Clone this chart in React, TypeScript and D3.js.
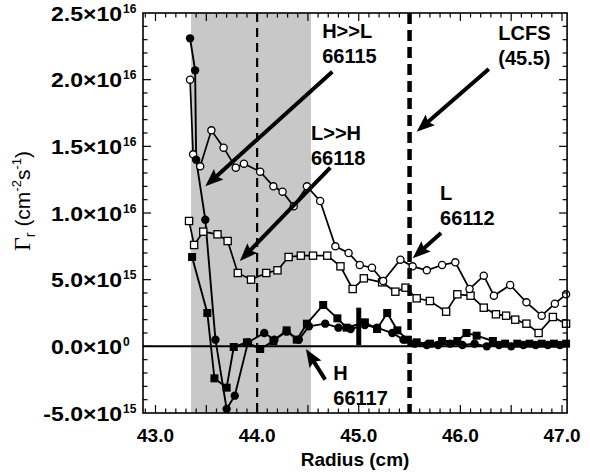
import React from "react";
import * as d3 from "d3";

// ---- data (flux in units of 1e15 cm^-2 s^-1) ----
const L_66112: [number, number][] = [
  [43.34, 20.0], [43.37, 14.4], [43.44, 13.5], [43.55, 16.2], [43.67, 14.9],
  [43.79, 13.4], [43.87, 13.7], [44.03, 13.1], [44.16, 12.0], [44.25, 11.6],
  [44.36, 10.5], [44.49, 12.0], [44.62, 10.9], [44.77, 7.5], [44.9, 7.0],
  [45.01, 6.1], [45.13, 5.9], [45.24, 4.9], [45.41, 6.5], [45.53, 6.0],
  [45.67, 5.7], [45.82, 6.1], [45.95, 6.3], [46.09, 4.3], [46.23, 5.3],
  [46.33, 3.8], [46.49, 4.6], [46.65, 3.3], [46.8, 2.3], [46.93, 3.2], [47.04, 3.9],
];
const LH_66118: [number, number][] = [
  [43.33, 9.4], [43.38, 7.6], [43.47, 8.6], [43.61, 8.4], [43.71, 7.9],
  [43.81, 5.5], [43.94, 5.0], [44.09, 5.5], [44.2, 5.7], [44.31, 6.7],
  [44.43, 6.8], [44.55, 6.8], [44.69, 6.8], [44.82, 6.0], [44.94, 4.3],
  [45.05, 5.1], [45.23, 4.8], [45.36, 4.1], [45.46, 4.4], [45.57, 3.6],
  [45.7, 3.4], [45.86, 2.6], [45.97, 3.9], [46.1, 3.8], [46.23, 2.9],
  [46.35, 2.4], [46.45, 2.3], [46.54, 2.0], [46.65, 1.7], [46.77, 1.0],
  [46.91, 2.2], [47.04, 1.7],
];
const HL_66115: [number, number][] = [
  [43.34, 23.1], [43.39, 20.7], [43.4, 14.0], [43.49, 9.5], [43.59, 0.5],
  [43.7, -4.7], [43.78, -3.7], [43.91, 0.3], [44.07, 1.0], [44.17, 0.5],
  [44.29, 1.1], [44.41, 0.5], [44.51, 1.5], [44.67, 1.7], [44.8, 1.4],
  [44.92, 1.3], [45.06, 1.6], [45.18, 1.4], [45.33, 1.0], [45.44, 0.5],
  [45.55, 0.2], [45.67, 0.1], [45.78, 0.1], [45.9, 0.2], [46.02, 0.1],
  [46.14, 0.2], [46.26, 0.0], [46.38, 0.1], [46.5, 0.0], [46.62, 0.1],
  [46.74, 0.1], [46.86, 0.1], [46.98, 0.1],
];
const H_66117: [number, number][] = [
  [43.36, 6.7], [43.51, 2.5], [43.58, -2.4], [43.7, -3.1], [43.77, -0.05],
  [43.9, 0.3], [44.03, -0.2], [44.16, 0.4], [44.29, 1.2], [44.39, 0.5],
  [44.49, 1.7], [44.65, 3.1], [44.79, 2.1], [44.88, 1.4], [45.06, 1.8],
  [45.18, 1.3], [45.28, 2.5], [45.38, 1.2], [45.48, 0.5], [45.57, 0.3],
  [45.7, 0.2], [45.82, 0.4], [45.97, 0.4], [46.06, 1.0], [46.16, 0.8],
  [46.32, 0.4], [46.44, 0.2], [46.56, 0.2], [46.68, 0.2], [46.8, 0.2],
  [46.92, 0.2], [47.04, 0.2],
];
const errorBar = { x: 45.0, lo: 0.1, hi: 2.9 };

const xTickValues = [43, 44, 45, 46, 47];
const xTickLabels = ["43.0", "44.0", "45.0", "46.0", "47.0"];
const yTickValues = [-5, 0, 5, 10, 15, 20, 25];
const yTickMain = ["-5.0×10", "0.0×10", "5.0×10", "1.0×10", "1.5×10", "2.0×10", "2.5×10"];
const yTickExp = ["15", "0", "15", "16", "16", "16", "16"];

const xFrame = [42.877, 47.05];
const yFrame = [-5, 25];
const shade = [43.35, 44.53];
const separatrix = 45.5;
const innerLine = 44.0;

// annotations: text lines, text anchor (data), arrow start, arrow tip (data)
const annotations = [
  { lines: ["H>>L", "66115"], at: [44.64, 23.1], from: [44.74, 20.6], to: [43.49, 12.0], anchor: "start" },
  { lines: ["L>>H", "66118"], at: [44.53, 15.5], from: [44.72, 13.4], to: [43.83, 6.4], anchor: "start" },
  { lines: ["LCFS", "(45.5)"], at: [46.63, 23.0], from: [46.28, 20.8], to: [45.57, 16.1], anchor: "middle" },
  { lines: ["L", "66112"], at: [45.8, 11.0], from: [45.81, 8.5], to: [45.53, 6.6], anchor: "start" },
  { lines: ["H", "66117"], at: [44.75, -2.5], from: [44.67, -2.5], to: [44.48, -0.2], anchor: "start" },
];

const FONT = "'Liberation Sans', Arial, Helvetica, sans-serif";

export default function App() {
  const W = 590, H = 473;
  const x = d3.scaleLinear().domain([43, 47]).range([155.5, 562]);
  const y = d3.scaleLinear().domain([-5, 25]).range([413, 13]);
  const line = d3.line<[number, number]>().x((d) => x(d[0])).y((d) => y(d[1]));

  const fx0 = x(xFrame[0]), fx1 = x(xFrame[1]);
  const fy0 = y(yFrame[1]), fy1 = y(yFrame[0]);

  const xMinor = d3.range(429, 471).map((v) => v / 10).filter((v) => x(v) > fx0 + 1 && x(v) < fx1 - 1);
  const yMinor = d3.range(-4, 25);

  const arrow = (from: number[], to: number[], key: string) => {
    const x1 = x(from[0]), y1 = y(from[1]), x2 = x(to[0]), y2 = y(to[1]);
    const ang = Math.atan2(y2 - y1, x2 - x1);
    const L = 18, Wd = 7;
    const bx = x2 - L * Math.cos(ang), by = y2 - L * Math.sin(ang);
    const px = -Math.sin(ang), py = Math.cos(ang);
    const pts = [
      [x2, y2],
      [bx + Wd * px, by + Wd * py],
      [bx + 3 * Math.cos(ang), by + 3 * Math.sin(ang)],
      [bx - Wd * px, by - Wd * py],
    ];
    return (
      <g key={key}>
        <line x1={x1} y1={y1} x2={bx + 4 * Math.cos(ang)} y2={by + 4 * Math.sin(ang)} stroke="#000" strokeWidth={4} />
        <polygon points={pts.map((p) => p.join(",")).join(" ")} fill="#000" />
      </g>
    );
  };

  return (
    <svg width={W} height={H} style={{ display: "block", position: "absolute", left: 0, top: 0 }} fontFamily={FONT}>
      <rect x={0} y={0} width={W} height={H} fill="#fff" />
      <rect x={x(shade[0])} y={fy0} width={x(shade[1]) - x(shade[0])} height={fy1 - fy0} fill="#c8c8c8" />
      <line x1={x(innerLine)} x2={x(innerLine)} y1={fy0} y2={fy1} stroke="#000" strokeWidth={2.2} strokeDasharray="9,6" />
      <line x1={fx0} x2={fx1} y1={y(0)} y2={y(0)} stroke="#000" strokeWidth={2} />

      <path d={line(LH_66118) || ""} fill="none" stroke="#000" strokeWidth={1.7} />
      <path d={line(L_66112) || ""} fill="none" stroke="#000" strokeWidth={1.7} />
      <path d={line(H_66117) || ""} fill="none" stroke="#000" strokeWidth={1.9} />
      <path d={line(HL_66115) || ""} fill="none" stroke="#000" strokeWidth={1.9} />

      <rect x={x(errorBar.x) - 2.5} y={y(errorBar.hi)} width={5} height={y(errorBar.lo) - y(errorBar.hi)} fill="#000" />

      {LH_66118.map((d, i) => (
        <rect key={"s" + i} x={x(d[0]) - 3.6} y={y(d[1]) - 3.6} width={7.2} height={7.2} fill="#fff" stroke="#000" strokeWidth={1.3} />
      ))}
      {L_66112.map((d, i) => (
        <circle key={"c" + i} cx={x(d[0])} cy={y(d[1])} r={3.6} fill="#fff" stroke="#000" strokeWidth={1.3} />
      ))}
      {H_66117.map((d, i) => (
        <rect key={"fs" + i} x={x(d[0]) - 4} y={y(d[1]) - 4} width={8} height={8} fill="#000" />
      ))}
      {HL_66115.map((d, i) => (
        <circle key={"fc" + i} cx={x(d[0])} cy={y(d[1])} r={4.2} fill="#000" />
      ))}

      <line x1={x(separatrix)} x2={x(separatrix)} y1={fy0} y2={fy1} stroke="#000" strokeWidth={4.5} strokeDasharray="11,6" />

      <rect x={fx0} y={fy0} width={fx1 - fx0} height={fy1 - fy0} fill="none" stroke="#000" strokeWidth={1.6} />

      {xMinor.map((v, i) => {
        const major = Math.abs(v * 2 - Math.round(v * 2)) < 1e-6;
        const len = major ? 8 : 4.5;
        return (
          <g key={"xt" + i}>
            <line x1={x(v)} x2={x(v)} y1={fy1} y2={fy1 - len} stroke="#000" strokeWidth={1.2} />
            <line x1={x(v)} x2={x(v)} y1={fy0} y2={fy0 + len} stroke="#000" strokeWidth={1.2} />
          </g>
        );
      })}
      {yMinor.map((v, i) => {
        const major = v % 5 === 0;
        const len = major ? 8 : 4.5;
        return (
          <g key={"yt" + i}>
            <line x1={fx0} x2={fx0 + len} y1={y(v)} y2={y(v)} stroke="#000" strokeWidth={1.2} />
            <line x1={fx1} x2={fx1 - len} y1={y(v)} y2={y(v)} stroke="#000" strokeWidth={1.2} />
          </g>
        );
      })}

      {xTickValues.map((v, i) => (
        <text key={"xl" + i} x={x(v)} y={fy1 + 29} textAnchor="middle" fontSize={19} fontWeight="bold">
          {xTickLabels[i]}
        </text>
      ))}
      {yTickValues.map((v, i) => (
        <g key={"yl" + i}>
          <text transform={`translate(122, ${y(v) + 7.5}) scale(1.15, 1)`} textAnchor="end" fontSize={20} fontWeight="bold">
            {yTickMain[i]}
          </text>
          <text x={123} y={y(v) - 0.5} textAnchor="start" fontSize={12} fontWeight="bold">
            {yTickExp[i]}
          </text>
        </g>
      ))}

      <text x={(fx0 + fx1) / 2} y={466} textAnchor="middle" fontSize={19} fontWeight="bold">
        Radius (cm)
      </text>
      <text transform={`translate(30, ${(fy0 + fy1) / 2 - 12}) rotate(-90)`} textAnchor="middle" fontSize={21}>
        <tspan fontFamily="'Liberation Serif', 'DejaVu Serif', serif" fontSize={24}>Γ</tspan>
        <tspan fontSize={14} dy={5}>r</tspan>
        <tspan dy={-5}> (cm</tspan>
        <tspan fontSize={13} dy={-9}>-2</tspan>
        <tspan dy={9}>s</tspan>
        <tspan fontSize={13} dy={-9}>-1</tspan>
        <tspan dy={9}>)</tspan>
      </text>

      {annotations.map((a, i) => (
        <g key={"an" + i}>
          {arrow(a.from, a.to, "ar" + i)}
          {a.lines.map((t, j) => (
            <text key={j} x={x(a.at[0])} y={y(a.at[1]) + j * 25} textAnchor={a.anchor as any} fontSize={20} fontWeight="bold">
              {t}
            </text>
          ))}
        </g>
      ))}
    </svg>
  );
}
